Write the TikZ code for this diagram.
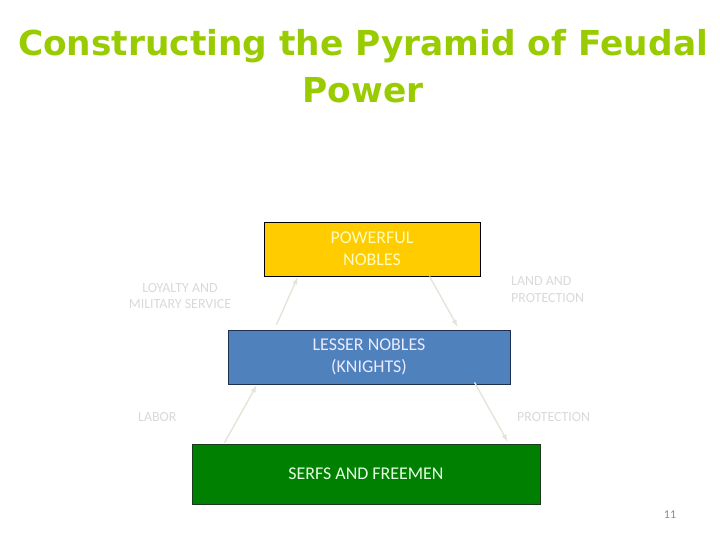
\documentclass[tikz,border=0pt]{standalone}
\usepackage{fontspec}
\setmainfont{Carlito}
\newfontfamily\titlefont{DejaVu Sans}
\usetikzlibrary{calc,arrows}
\definecolor{titlegreen}{HTML}{99CC00}
\definecolor{nobleyellow}{HTML}{FFCC00}
\definecolor{knightblue}{HTML}{4F81BD}
\definecolor{knightedge}{HTML}{1F2F50}
\definecolor{serfgreen}{HTML}{008000}
\definecolor{serfedge}{HTML}{1E3A1E}
\definecolor{labelgray}{HTML}{D9D9D9}
\definecolor{arrowgray}{HTML}{E4E4DA}
\tikzset{
   rank/.style={draw, line width=0.9bp, inner sep=0pt, align=center,
                font=\fontsize{18}{22}\selectfont},
   duty/.style={text=labelgray, font=\fontsize{14}{17}\selectfont, inner sep=0pt},
   gift/.style={color=arrowgray, line width=1.4bp, -latex}
}
\begin{document}
\begin{tikzpicture}[x=1bp,y=-1bp]
\useasboundingbox (0,0) rectangle (720,540);

% title
\node (title) at (363,66) [text=titlegreen, align=center,
      font=\titlefont\bfseries\fontsize{34.5}{47}\selectfont]
      {Constructing the Pyramid of Feudal\\Power};

% the three ranks
\node (nobles) at (372,249) [rank, fill=nobleyellow, minimum width=216bp, minimum height=54bp,
      text=yellow!25] {POWERFUL\\NOBLES};
\node (knights) at (369,357) [rank, fill=knightblue, draw=knightedge, minimum width=282bp,
      minimum height=54bp, text=white!92!blue] {LESSER NOBLES\\(KNIGHTS)};
\node (serfs) at (366,474) [rank, fill=serfgreen, draw=serfedge, minimum width=348bp,
      minimum height=60bp, text=white!90!green] {SERFS AND FREEMEN};

% what is given
\node (loyalty) at (180,296) [duty, align=center] {LOYALTY AND\\MILITARY SERVICE};
\node (land) at (511,290) [duty, align=left, anchor=west] {LAND AND\\PROTECTION};
\node (labor) at (138,417) [duty, anchor=west] {LABOR};
\node (protect) at (517,417) [duty, anchor=west] {PROTECTION};

\node (page) at (670,515) [text=black!45, font=\fontsize{12}{14}\selectfont] {11};

\path[gift]
([xshift=49bp,yshift=5bp]knights.north west) edge ([xshift=34bp,yshift=-1bp]nobles.south west)
([xshift=166bp]nobles.south west) edge ([xshift=230bp,yshift=3bp]knights.north west)
([xshift=33bp,yshift=1bp]serfs.north west) edge ([xshift=29bp,yshift=-1bp]knights.south west)
([xshift=247bp,yshift=2bp]knights.south west) edge ([xshift=316bp,yshift=2bp]serfs.north west)
;

\end{tikzpicture}
\end{document}
